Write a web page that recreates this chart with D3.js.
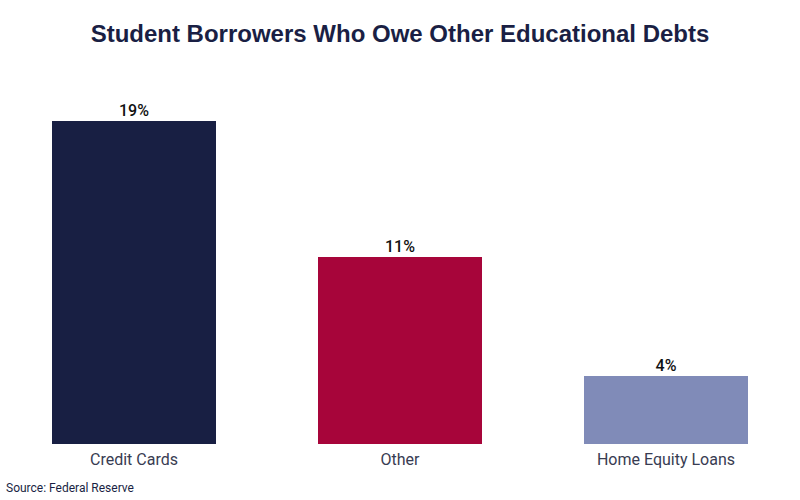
<!DOCTYPE html>
<html>
<head>
<meta charset="utf-8">
<script src="https://cdn.jsdelivr.net/npm/d3@7"></script>
<style>
  html, body { margin: 0; padding: 0; background: #ffffff; }
  svg { display: block; }
</style>
</head>
<body>
<svg id="chart" width="800" height="500"></svg>
<script>
const categories = ["Credit Cards", "Other", "Home Equity Loans"];
const values = [19, 11, 4];
const colors = ["#181f43", "#a7053a", "#808bb8"];
const title = "Student Borrowers Who Owe Other Educational Debts";
const source = "Source: Federal Reserve";

const svg = d3.select("#chart");

const x = d3.scaleBand().domain(categories).range([52, 748]).paddingInner(0.3835).paddingOuter(0);
const y = d3.scaleLinear().domain([0, 19]).range([444, 121]);

svg.append("text")
  .attr("x", 400).attr("y", 42)
  .attr("text-anchor", "middle")
  .attr("font-family", "'Liberation Sans', Arial, sans-serif")
  .attr("font-weight", "bold")
  .attr("font-size", 24)
  .attr("fill", "#1a1f44")
  .text(title);

svg.selectAll("rect.bar")
  .data(values)
  .enter().append("rect")
  .attr("class", "bar")
  .attr("x", (d, i) => x(categories[i]))
  .attr("width", x.bandwidth())
  .attr("y", d => y(d))
  .attr("height", d => y(0) - y(d))
  .attr("fill", (d, i) => colors[i]);

svg.selectAll("text.val")
  .data(values)
  .enter().append("text")
  .attr("class", "val")
  .attr("x", (d, i) => x(categories[i]) + x.bandwidth() / 2)
  .attr("y", d => y(d) - 5)
  .attr("text-anchor", "middle")
  .attr("font-family", "Roboto, sans-serif")
  .attr("font-weight", 500)
  .attr("font-size", 16)
  .attr("fill", "#111111")
  .text(d => d + "%");

const xAxis = d3.axisBottom(x).tickSize(0).tickPadding(10);
const gx = svg.append("g").attr("transform", "translate(0,444)").call(xAxis);
gx.select(".domain").remove();
gx.selectAll("text")
  .attr("font-family", "Roboto, sans-serif")
  .attr("font-size", 16)
  .attr("fill", "#383c52");

svg.append("text")
  .attr("x", 6).attr("y", 492)
  .attr("font-family", "Roboto, sans-serif")
  .attr("font-size", 12)
  .attr("fill", "#1a1f44")
  .text(source);
</script>
</body>
</html>
